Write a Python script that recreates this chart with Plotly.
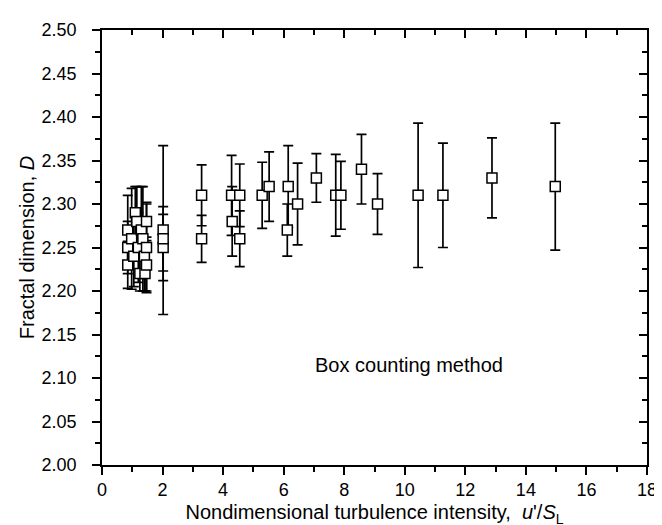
import plotly.graph_objects as go

# Data: nondimensional turbulence intensity u'/S_L, fractal dimension D, error (+/-)
x_vals = [0.85, 0.85, 0.85, 0.98, 1.05, 1.10, 1.15, 1.20, 1.25, 1.30, 1.35, 1.40, 1.42, 1.47, 1.47, 1.47,
          2.02, 2.02, 2.02, 3.29, 3.29, 4.28, 4.30, 4.55, 4.55, 5.29, 5.52, 6.15, 6.12, 6.46,
          7.08, 7.72, 7.89, 8.57, 9.10, 10.44, 11.26, 12.88, 14.97]
d_vals = [2.27, 2.25, 2.23, 2.26, 2.24, 2.29, 2.28, 2.25, 2.22, 2.27, 2.26, 2.24, 2.22, 2.28, 2.25, 2.23,
          2.27, 2.25, 2.26, 2.31, 2.26, 2.31, 2.28, 2.31, 2.26, 2.31, 2.32, 2.32, 2.27, 2.30,
          2.33, 2.31, 2.31, 2.34, 2.30, 2.31, 2.31, 2.33, 2.32]
err_vals = [0.040, 0.030, 0.027, 0.058, 0.035, 0.030, 0.040, 0.040, 0.020, 0.050, 0.060, 0.040, 0.020, 0.022, 0.050, 0.032,
            0.097, 0.038, 0.037, 0.035, 0.027, 0.046, 0.040, 0.036, 0.032, 0.038, 0.040, 0.047, 0.030, 0.047,
            0.028, 0.047, 0.039, 0.040, 0.035, 0.083, 0.060, 0.046, 0.073]

x_range = [0, 18]
y_range = [2.00, 2.50]
x_ticks = [0, 2, 4, 6, 8, 10, 12, 14, 16, 18]
y_ticks = [2.00, 2.05, 2.10, 2.15, 2.20, 2.25, 2.30, 2.35, 2.40, 2.45, 2.50]

FONT = "Liberation Sans, Arial, Helvetica, sans-serif"

fig = go.Figure()
fig.add_trace(go.Scatter(
    x=x_vals, y=d_vals, mode="markers",
    marker=dict(symbol="square", size=10, color="white", line=dict(color="black", width=1.5)),
    error_y=dict(type="data", array=err_vals, symmetric=True, color="black", thickness=1.7, width=5),
    showlegend=False, hoverinfo="skip",
))
# invisible trace for mirrored inside ticks
fig.add_trace(go.Scatter(x=[None], y=[None], xaxis="x2", yaxis="y2", showlegend=False))

fig.add_annotation(x=10.15, y=2.115, text="Box counting method", showarrow=False,
                   font=dict(size=20, color="black", family=FONT))

common = dict(showgrid=False, zeroline=False, color="black", tickcolor="black", tickwidth=1.5)

fig.update_layout(
    width=662, height=525,
    margin=dict(l=94, r=23, t=16, b=68),
    paper_bgcolor="white", plot_bgcolor="white",
    font=dict(family=FONT, size=18, color="black"),
    xaxis=dict(range=x_range, tickvals=x_ticks, ticks="outside", ticklen=8,
               showline=True, linewidth=1.6, linecolor="black", mirror=True,
               minor=dict(dtick=1, ticks="outside", ticklen=5, tickwidth=1.5, tickcolor="black"),
               title=dict(text="Nondimensional turbulence intensity,  <i>u</i>'/<i>S</i><sub>L</sub>",
                          font=dict(size=20), standoff=6),
               tickfont=dict(size=18), **common),
    yaxis=dict(range=y_range, tickvals=y_ticks, tickformat=".2f", ticks="outside", ticklen=8,
               showline=True, linewidth=1.6, linecolor="black", mirror=True,
               ticklabelstandoff=12,
               minor=dict(dtick=0.025, ticks="outside", ticklen=5, tickwidth=1.5, tickcolor="black"),
               title=dict(text="Fractal dimension, <i>D</i>", font=dict(size=20), standoff=2),
               tickfont=dict(size=18), **common),
    xaxis2=dict(range=x_range, overlaying="x", side="top", tickvals=x_ticks, ticks="inside", ticklen=8,
                showticklabels=False, showline=False,
                minor=dict(dtick=1, ticks="inside", ticklen=5, tickwidth=1.5, tickcolor="black"),
                **common),
    yaxis2=dict(range=y_range, overlaying="y", side="right", tickvals=y_ticks, ticks="inside", ticklen=8,
                showticklabels=False, showline=False,
                minor=dict(dtick=0.025, ticks="inside", ticklen=5, tickwidth=1.5, tickcolor="black"),
                **common),
)

fig.write_html("out.html")
